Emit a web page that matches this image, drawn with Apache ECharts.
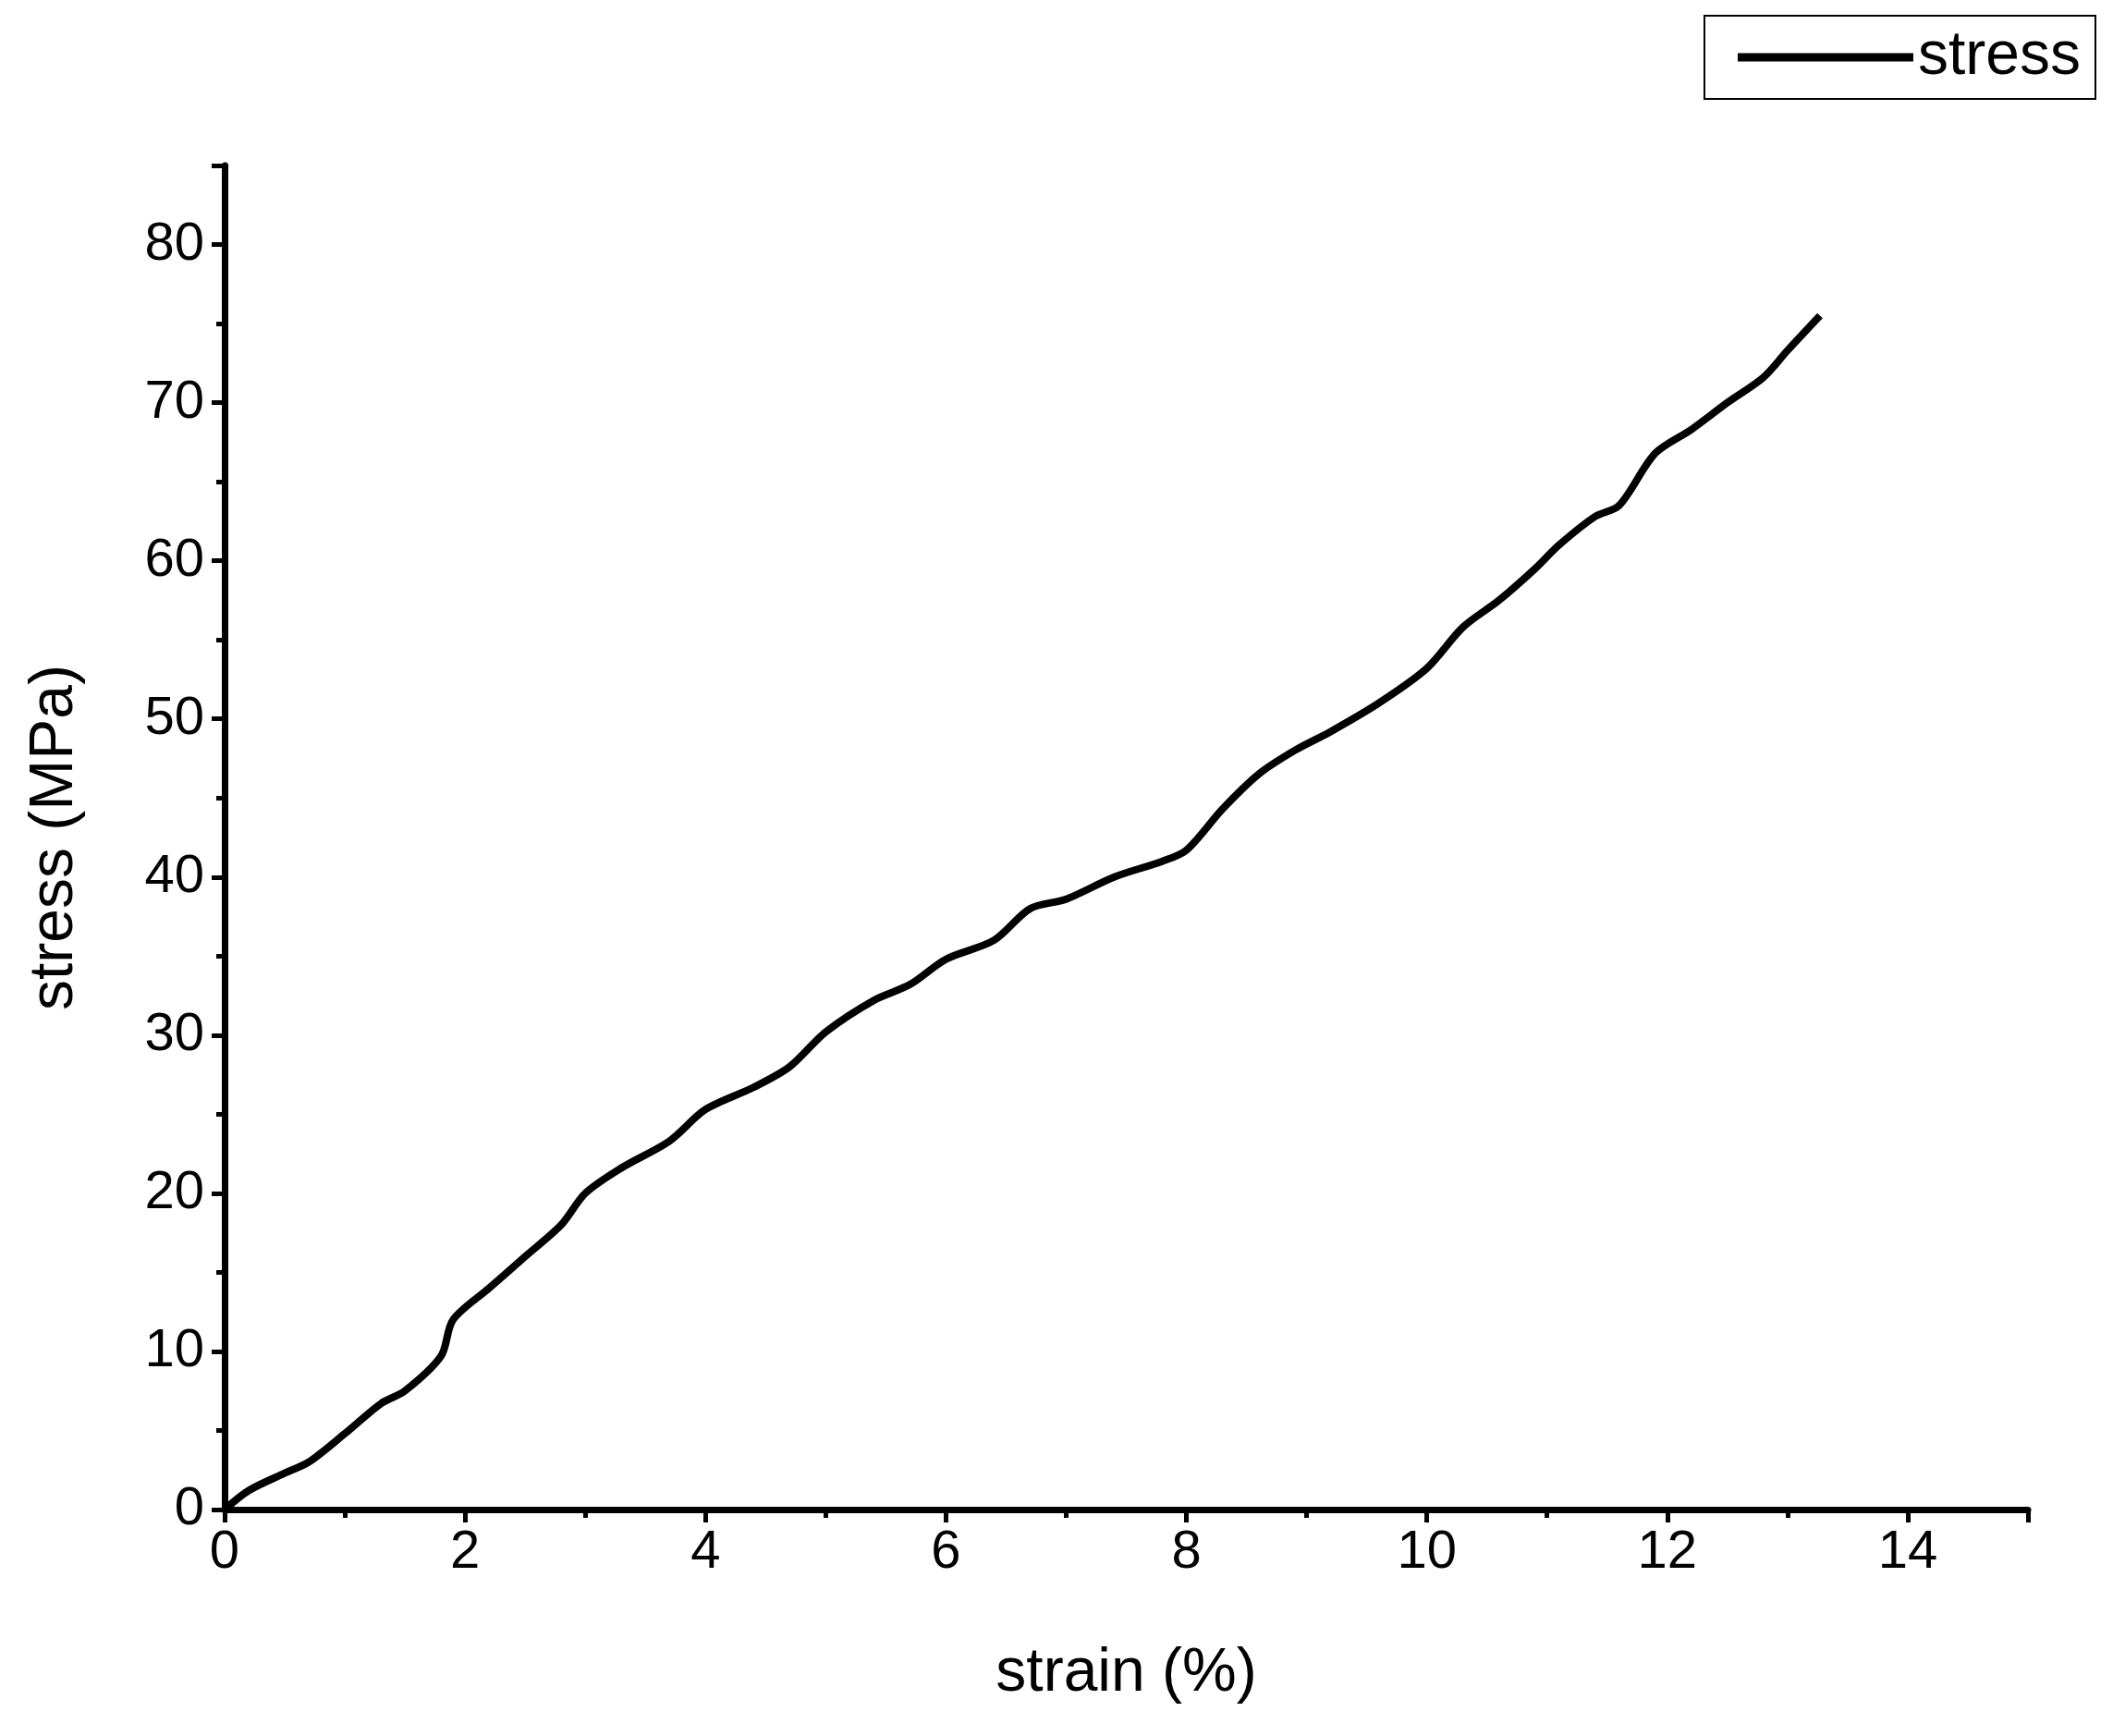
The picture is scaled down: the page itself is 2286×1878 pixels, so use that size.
<!DOCTYPE html>
<html><head><meta charset="utf-8">
<script src="https://cdn.jsdelivr.net/npm/echarts@6/dist/echarts.min.js"></script>
<style>html,body{margin:0;padding:0;background:#fff}#c{width:2286px;height:1878px}</style>
</head><body><div id="c"></div>
<script>
const strain = [0,0.2,0.5,0.7,1.0,1.3,1.5,1.8,1.9,2.2,2.5,2.8,3.0,3.3,3.7,4.0,4.4,4.7,5.0,5.4,5.7,6.0,6.4,6.7,7.0,7.4,7.8,8.0,8.3,8.6,8.9,9.2,9.6,10.0,10.3,10.6,10.9,11.1,11.4,11.6,11.9,12.2,12.5,12.8,13.0,13.27];
const stress = [0,1.2,2.3,3,4.8,6.7,7.5,9.7,12,14,16,18,20,21.6,23.3,25.3,26.7,28,30.2,32.2,33.2,34.8,36,38,38.6,40,41,41.7,44.3,46.5,48,49.2,51,53.2,55.8,57.5,59.5,61,62.8,63.5,66.8,68.3,70,71.6,73.3,75.5];
const xTicks = [0,2,4,6,8,10,12,14];
const yTicks = [0,10,20,30,40,50,60,70,80];
const F = 'Liberation Sans, Arial, sans-serif';
const chart = echarts.init(document.getElementById('c'));
const axLine = {show:true, lineStyle:{color:'#000', width:7}};
chart.setOption({
  animation:false,
  grid:{left:243, right:2286-2194, top:179, bottom:1878-1633},
  legend:{right:19, top:17, itemWidth:190, itemHeight:9, itemGap:14,
    borderColor:'#000', borderWidth:2, padding:[12,16,12,36],
    textStyle:{fontFamily:F, fontSize:66, color:'#000'}, icon:'rect',
    data:['stress']},
  xAxis:{type:'value', min:0, max:15, interval:2, name:'strain (%)', nameLocation:'middle', nameGap:145,
    nameTextStyle:{fontFamily:F, fontSize:66, color:'#000'},
    axisLine:axLine, splitLine:{show:false},
    axisTick:{show:true, inside:false, length:14, lineStyle:{width:5,color:'#000'}},
    minorTick:{show:true, splitNumber:2, length:9, lineStyle:{width:5,color:'#000'}},
    axisLabel:{fontFamily:F, fontSize:58, color:'#000', margin:18,
      formatter:v=>xTicks.includes(v)?String(v):''}},
  yAxis:{type:'value', min:0, max:85, interval:10, name:'stress (MPa)', nameLocation:'middle', nameGap:150,
    nameTextStyle:{fontFamily:F, fontSize:66, color:'#000'},
    axisLine:axLine, splitLine:{show:false},
    axisTick:{show:true, length:14, lineStyle:{width:5,color:'#000'}},
    minorTick:{show:true, splitNumber:2, length:9, lineStyle:{width:5,color:'#000'}},
    axisLabel:{fontFamily:F, fontSize:58, color:'#000', margin:22,
      formatter:v=>yTicks.includes(v)?String(v):''}},
  series:[{name:'stress', type:'line', showSymbol:false, smooth:0.3,
    lineStyle:{color:'#000', width:8}, itemStyle:{color:'#000'},
    data:strain.map((x,i)=>[x,stress[i]])}]
});
</script></body></html>
